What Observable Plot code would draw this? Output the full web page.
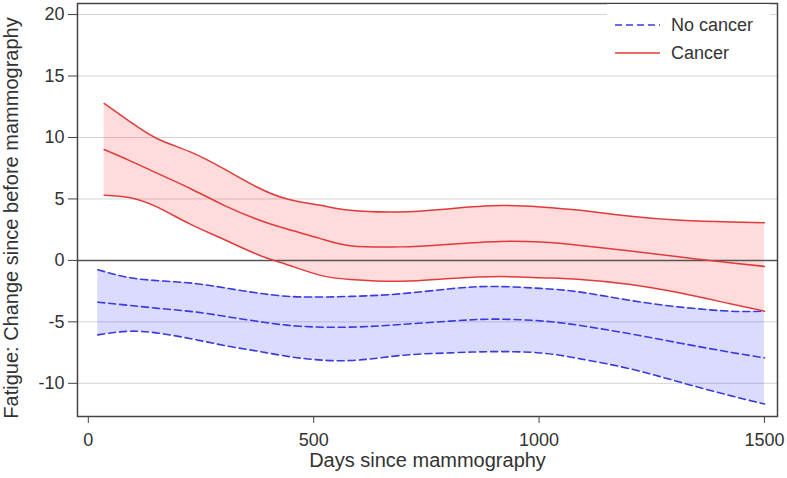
<!DOCTYPE html>
<html>
<head>
<meta charset="utf-8">
<script src="https://cdn.jsdelivr.net/npm/d3@7"></script>
<script src="https://cdn.jsdelivr.net/npm/@observablehq/plot@0.6"></script>
<style>
  html, body { margin: 0; padding: 0; background: #fff; }
</style>
</head>
<body>
<div id="chart"></div>
<script>
// ---- Data ----
const blueDays  = [21, 93, 167, 241, 315, 389, 470, 581, 692, 803, 899, 1003, 1092, 1203, 1314, 1424, 1500];
const blueUpper = [-0.76, -1.41, -1.68, -1.90, -2.31, -2.72, -2.97, -2.93, -2.72, -2.31, -2.12, -2.28, -2.58, -3.26, -3.80, -4.13, -4.13];
const blueMid   = [-3.40, -3.67, -3.94, -4.21, -4.62, -5.03, -5.36, -5.43, -5.22, -4.94, -4.78, -4.92, -5.30, -5.98, -6.74, -7.47, -7.93];
const blueLower = [-6.06, -5.76, -5.98, -6.47, -7.01, -7.47, -7.95, -8.15, -7.74, -7.52, -7.42, -7.53, -8.01, -8.83, -9.92, -11.00, -11.68];

const redDays  = [35, 93, 152, 226, 300, 374, 441, 515, 581, 692, 803, 914, 1003, 1092, 1203, 1314, 1424, 1500];
const redUpper = [12.77, 11.27, 9.92, 8.83, 7.47, 5.97, 5.00, 4.48, 4.07, 3.94, 4.21, 4.46, 4.35, 4.07, 3.59, 3.26, 3.12, 3.07];
const redMid   = [9.02, 8.10, 7.10, 5.85, 4.50, 3.35, 2.55, 1.77, 1.20, 1.10, 1.32, 1.54, 1.49, 1.22, 0.76, 0.27, -0.19, -0.49];
const redLower = [5.30, 5.10, 4.35, 2.95, 1.72, 0.50, -0.35, -1.22, -1.55, -1.70, -1.48, -1.32, -1.41, -1.55, -1.96, -2.66, -3.53, -4.13];

const xTicks = [0, 500, 1000, 1500];
const yTicks = [-10, -5, 0, 5, 10, 15, 20];
const seriesNames = ["No cancer", "Cancer"];
const xLabel = "Days since mammography";
const yLabel = "Fatigue: Change since before mammography";

const blue = blueDays.map((d, i) => ({day: d, upper: blueUpper[i], mid: blueMid[i], lower: blueLower[i]}));
const red  = redDays.map((d, i) => ({day: d, upper: redUpper[i], mid: redMid[i], lower: redLower[i]}));

const BLUE = "#3a3ae0";
const RED = "#e23a3a";
const dash = "7,4";
const curve = "natural";
const fmt = d => String(d);

const chart = Plot.plot({
  width: 787,
  height: 478,
  marginLeft: 77,
  marginRight: 10,
  marginTop: 3,
  marginBottom: 62,
  x: {domain: [-24, 1529]},
  y: {domain: [-12.7, 20.9]},
  style: {fontFamily: "'Liberation Sans', Arial, sans-serif", color: "#333", background: "#fff"},
  marks: [
    Plot.gridY(yTicks.filter(t => t !== 0), {stroke: "#d4d4d4", strokeOpacity: 1, strokeWidth: 1}),
    Plot.areaY(blue, {x: "day", y1: "lower", y2: "upper", fill: "#0000ff", fillOpacity: 0.14, curve}),
    Plot.areaY(red, {x: "day", y1: "lower", y2: "upper", fill: "#ff0000", fillOpacity: 0.14, curve}),
    Plot.ruleY([0], {stroke: "#555", strokeWidth: 1.5}),
    Plot.lineY(blue, {x: "day", y: "upper", stroke: BLUE, strokeWidth: 1.6, strokeDasharray: dash, curve}),
    Plot.lineY(blue, {x: "day", y: "mid", stroke: BLUE, strokeWidth: 1.6, strokeDasharray: dash, curve}),
    Plot.lineY(blue, {x: "day", y: "lower", stroke: BLUE, strokeWidth: 1.6, strokeDasharray: dash, curve}),
    Plot.lineY(red, {x: "day", y: "upper", stroke: RED, strokeWidth: 1.5, curve}),
    Plot.lineY(red, {x: "day", y: "mid", stroke: RED, strokeWidth: 1.5, curve}),
    Plot.lineY(red, {x: "day", y: "lower", stroke: RED, strokeWidth: 1.5, curve}),
    Plot.frame({stroke: "#444", strokeWidth: 1.5}),
    Plot.axisY(yTicks, {tickSize: 9, tickPadding: 4, fontSize: 18, label: null, stroke: "#444", tickFormat: fmt}),
    Plot.axisX(xTicks, {tickSize: 7, tickPadding: 10, fontSize: 18, label: null, stroke: "#444", tickFormat: fmt}),
    Plot.text([xLabel], {frameAnchor: "bottom", dy: 50, fontSize: 20, fill: "#333", textAnchor: "middle"}),
    Plot.text([yLabel], {frameAnchor: "left", dx: -66, dy: 8, rotate: -90, fontSize: 20, fill: "#333", textAnchor: "middle"})
  ]
});

// Legend (drawn inside the plot area, top right)
const svg = d3.select(chart);
const lg = svg.append("g")
  .attr("font-family", "'Liberation Sans', Arial, sans-serif")
  .attr("font-size", 18).attr("fill", "#333").attr("text-anchor", "start");
lg.append("rect").attr("x", 607).attr("y", 4).attr("width", 163).attr("height", 64).attr("fill", "#fff");
const legendItems = [
  {name: seriesNames[0], color: BLUE, dash: dash, y: 25},
  {name: seriesNames[1], color: RED, dash: null, y: 53}
];
legendItems.forEach(it => {
  const l = lg.append("line").attr("x1", 615).attr("x2", 660).attr("y1", it.y).attr("y2", it.y)
    .attr("stroke", it.color).attr("stroke-width", 1.6);
  if (it.dash) l.attr("stroke-dasharray", it.dash);
  lg.append("text").attr("x", 671).attr("y", it.y).attr("dy", "0.35em").attr("text-anchor", "start").text(it.name);
});

document.getElementById("chart").appendChild(chart);
</script>
</body>
</html>
